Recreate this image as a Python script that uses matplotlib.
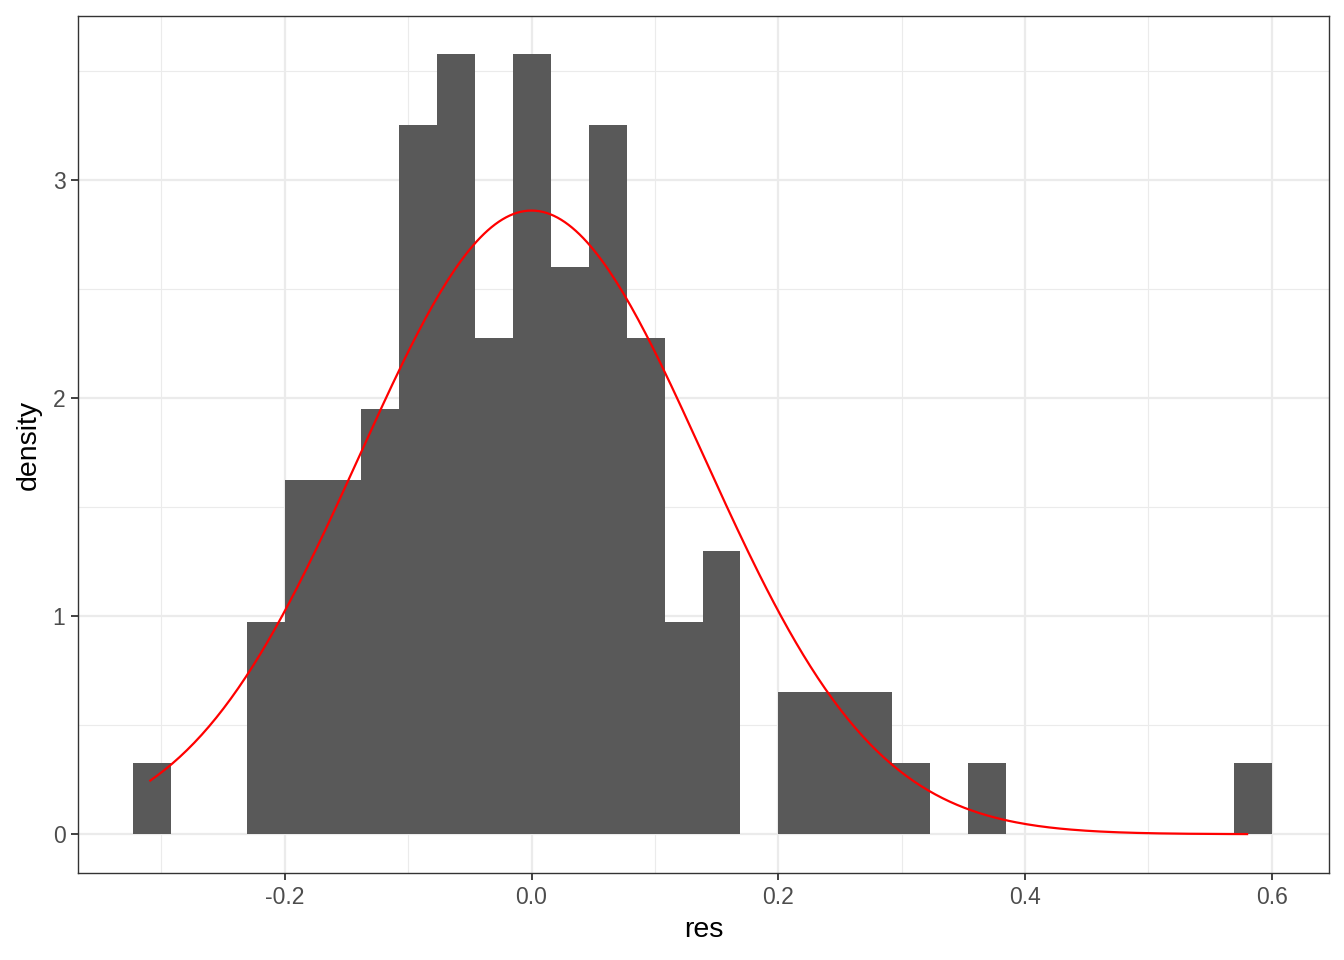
import numpy as np
import matplotlib
matplotlib.use("Agg")
import matplotlib.pyplot as plt

# Histogram data (counts per bin, n = 100)
bin_start = -0.3228
bin_end = 0.6
counts = [1, 0, 0, 3, 5, 5, 6, 10, 11, 7, 11, 8, 10, 7, 3, 4, 0, 2, 2, 2,
          1, 0, 1, 0, 0, 0, 0, 0, 0, 1]
n_obs = 100
# Fitted normal curve parameters
fit_mean = 0.0
fit_sd = 0.1395
res_min = -0.309
res_max = 0.580

xticks = [-0.2, 0.0, 0.2, 0.4, 0.6]
xticklabels = ["-0.2", "0.0", "0.2", "0.4", "0.6"]
yticks = [0, 1, 2, 3]
yticklabels = ["0", "1", "2", "3"]

plt.rcParams['font.family'] = ['Liberation Sans', 'DejaVu Sans']

fig = plt.figure(figsize=(13.44, 9.6), dpi=100)
ax = fig.add_axes([78/1344, 1 - 873/960, (1329-78)/1344, (873-16)/960])

edges = np.linspace(bin_start, bin_end, len(counts) + 1)
width = edges[1] - edges[0]
dens = np.array(counts) / (n_obs * width)
ax.bar(edges[:-1], dens, width=width, align='edge', color='#595959',
       linewidth=0, zorder=2)

xs = np.linspace(res_min, res_max, 300)
ys = np.exp(-0.5 * ((xs - fit_mean) / fit_sd) ** 2) / (fit_sd * np.sqrt(2 * np.pi))
ax.plot(xs, ys, color='red', lw=1.6, zorder=3)

ax.set_xlim(-0.3676, 0.6464)
ax.set_ylim(-0.178, 3.752)

ax.set_xticks(xticks)
ax.set_xticklabels(xticklabels)
ax.set_yticks(yticks)
ax.set_yticklabels(yticklabels)
ax.set_xticks([-0.3, -0.1, 0.1, 0.3, 0.5], minor=True)
ax.set_yticks([0.5, 1.5, 2.5, 3.5], minor=True)

ax.grid(which='major', color='#EBEBEB', lw=1.6, zorder=0)
ax.grid(which='minor', color='#EBEBEB', lw=0.8, zorder=0)
ax.set_axisbelow(True)
ax.tick_params(which='minor', length=0)
ax.tick_params(which='major', length=5, width=1.3, color='#333333',
               labelcolor='#4D4D4D', labelsize=16.5, pad=4)

for s in ax.spines.values():
    s.set_color('#333333')
    s.set_linewidth(1.0)

ax.set_xlabel('res', fontsize=20.5, color='black', labelpad=6)
ax.set_ylabel('density', fontsize=20.5, color='black', labelpad=8)

fig.savefig('out.png', dpi=100)
